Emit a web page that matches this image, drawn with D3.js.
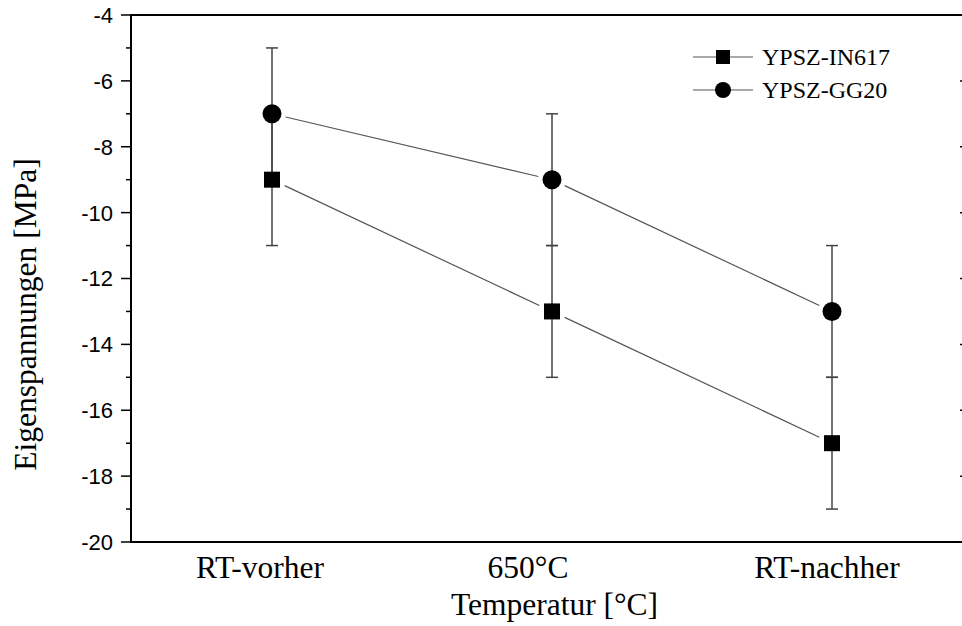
<!DOCTYPE html>
<html><head><meta charset="utf-8">
<script src="https://cdn.jsdelivr.net/npm/d3@7"></script>
<style>body{margin:0;background:#fff}svg{display:block}</style>
</head><body>
<svg id="c" width="962" height="626"></svg>
<script>
const categories = ["RT-vorher", "650°C", "RT-nachher"];
const seriesNames = ["YPSZ-IN617", "YPSZ-GG20"];
const in617 = [-9, -13, -17];
const gg20 = [-7, -9, -13];
const in617Err = [2, 2, 2];
const gg20Err = [2, 2, 2];
const yTicks = [-20, -18, -16, -14, -12, -10, -8, -6, -4];
const yMinor = [-19, -17, -15, -13, -11, -9, -7, -5];

const svg = d3.select("#c");
const L = 131, R = 972, T = 15, B = 542;
const x = d3.scaleLinear().domain([0.5, 3.5]).range([L + 1, R]);
const y = d3.scaleLinear().domain([-20, -4]).range([B, T]);
const serif = "'Liberation Serif','Times New Roman',serif";
const sans = "'Liberation Sans',Arial,sans-serif";
const labelNudge = [-12, -24, -5];

// axes frame
const g = svg.append("g");
g.append("line").attr("x1", L).attr("x2", L).attr("y1", T).attr("y2", B).attr("stroke", "#000").attr("stroke-width", 2);
g.append("line").attr("x1", L - 1).attr("x2", 962).attr("y1", B).attr("y2", B).attr("stroke", "#000").attr("stroke-width", 2);
g.append("line").attr("x1", L - 1).attr("x2", 962).attr("y1", T).attr("y2", T).attr("stroke", "#000").attr("stroke-width", 2);

// y axis ticks
yTicks.forEach(v => {
  g.append("line").attr("x1", L - 10).attr("x2", L).attr("y1", y(v)).attr("y2", y(v)).attr("stroke", "#000").attr("stroke-width", 1.5);
  g.append("line").attr("x1", R - 12).attr("x2", R).attr("y1", y(v)).attr("y2", y(v)).attr("stroke", "#000").attr("stroke-width", 1.5);
  g.append("text").attr("x", L - 18).attr("y", y(v)).attr("dy", "0.36em").attr("text-anchor", "end")
    .attr("font-family", sans).attr("font-size", 22).text(v);
});
yMinor.forEach(v => {
  g.append("line").attr("x1", L - 5).attr("x2", L).attr("y1", y(v)).attr("y2", y(v)).attr("stroke", "#000").attr("stroke-width", 1.5);
});

// x tick labels
categories.forEach((c, i) => {
  g.append("text").attr("x", x(i + 1) + labelNudge[i]).attr("y", 578).attr("text-anchor", "middle")
    .attr("font-family", serif).attr("font-size", 31.5).text(c);
});

// axis titles
svg.append("text").attr("x", (L + R) / 2 + 3).attr("y", 615).attr("text-anchor", "middle")
  .attr("font-family", serif).attr("font-size", 31.5).text("Temperatur [°C]");
svg.append("text").attr("transform", `translate(36,${(T + B) / 2 + 36}) rotate(-90)`).attr("text-anchor", "middle")
  .attr("font-family", serif).attr("font-size", 31.5).text("Eigenspannungen [MPa]");

const series = [
  {name: seriesNames[0], vals: in617, err: in617Err, shape: "square"},
  {name: seriesNames[1], vals: gg20, err: gg20Err, shape: "circle"}
];

// connecting lines with gaps
const gap = 14;
series.forEach(s => {
  for (let i = 0; i < s.vals.length - 1; i++) {
    const x1 = x(i + 1), y1 = y(s.vals[i]), x2 = x(i + 2), y2 = y(s.vals[i + 1]);
    const dx = x2 - x1, dy = y2 - y1, len = Math.hypot(dx, dy);
    const ux = dx / len, uy = dy / len;
    g.append("line").attr("x1", x1 + ux * gap).attr("y1", y1 + uy * gap)
      .attr("x2", x2 - ux * gap).attr("y2", y2 - uy * gap)
      .attr("stroke", "#555").attr("stroke-width", 1.2);
  }
});

// error bars
series.forEach(s => {
  s.vals.forEach((v, i) => {
    const cx = x(i + 1);
    g.append("line").attr("x1", cx).attr("x2", cx).attr("y1", y(v - s.err[i])).attr("y2", y(v + s.err[i]))
      .attr("stroke", "#444").attr("stroke-width", 1.5);
    [v - s.err[i], v + s.err[i]].forEach(e => {
      g.append("line").attr("x1", cx - 6).attr("x2", cx + 6).attr("y1", y(e)).attr("y2", y(e))
        .attr("stroke", "#444").attr("stroke-width", 1.5);
    });
  });
});

// markers
function marker(sel, shape, cx, cy) {
  if (shape === "square") {
    sel.append("rect").attr("x", cx - 8).attr("y", cy - 8).attr("width", 16).attr("height", 16).attr("fill", "#000");
  } else {
    sel.append("circle").attr("cx", cx).attr("cy", cy).attr("r", 9.5).attr("fill", "#000");
  }
}
series.forEach(s => {
  s.vals.forEach((v, i) => marker(g, s.shape, x(i + 1), y(v)));
});

// legend
series.forEach((s, i) => {
  const ly = 57 + i * 33;
  svg.append("line").attr("x1", 693).attr("x2", 753).attr("y1", ly).attr("y2", ly).attr("stroke", "#555").attr("stroke-width", 1.2);
  if (s.shape === "square") {
    svg.append("rect").attr("x", 716).attr("y", ly - 7).attr("width", 14).attr("height", 14).attr("fill", "#000");
  } else {
    svg.append("circle").attr("cx", 723).attr("cy", ly).attr("r", 8).attr("fill", "#000");
  }
  svg.append("text").attr("x", 762).attr("y", ly).attr("dy", "0.35em").attr("font-family", serif).attr("font-size", 24).text(s.name);
});
</script>
</body></html>
